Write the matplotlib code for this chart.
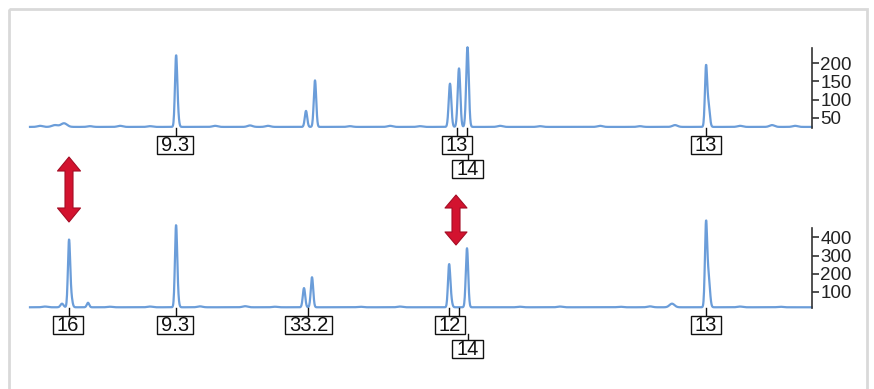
import numpy as np
import matplotlib.pyplot as plt
from matplotlib.patches import Rectangle, Polygon

W, H = 874, 389

# trace data (scan position, peak height above baseline, peak sigma)
top_base = 25
top_peak_x = [55, 64, 176, 177.5, 306, 315, 450, 459, 467.5, 706, 708.5]
top_peak_h = [5, 10, 178, 40, 44, 128, 119, 161, 219, 161, 60]
top_peak_s = [3, 3, 1.1, 1.2, 1.2, 1.2, 1.3, 1.3, 1.3, 1.1, 1.3]
top_noise_x = [40, 90, 120, 150, 215, 250, 268, 350, 390, 420, 500, 540, 600, 640, 675, 740, 772, 795]
top_noise_h = [3, 2, 3, 2, 3, 4, 3, 2, 3, 2, 3, 2, 3, 2, 5, 3, 5, 3]

bot_base = 14
bot_peak_x = [62, 69, 71, 88, 176, 177.5, 304, 312, 449, 450.5, 467, 672, 706, 708.5]
bot_peak_h = [20, 356, 60, 25, 426, 60, 106, 166, 206, 60, 326, 20, 444, 170]
bot_peak_s = [1.5, 1.1, 1.3, 1.2, 1.1, 1.2, 1.2, 1.2, 1.1, 1.3, 1.2, 2.5, 1.1, 1.4]
bot_noise_x = [45, 110, 150, 200, 245, 275, 360, 400, 520, 560, 620, 650, 740, 780]
bot_noise_h = [4, 3, 4, 5, 6, 3, 3, 4, 3, 4, 3, 5, 4, 3]

top_ticks = [50, 100, 150, 200]
bot_ticks = [100, 200, 300, 400]

# allele call boxes
top_labels = ["9.3", "13", "14", "13"]
top_label_x = [175, 457, 467.5, 706]
top_label_row = [0, 0, 1, 0]
top_label_ticks = [[176], [457, 467], [], [706]]

bot_labels = ["16", "9.3", "33.2", "12", "14", "13"]
bot_label_x = [68, 175, 308.5, 450, 467.5, 706]
bot_label_row = [0, 0, 0, 0, 1, 0]
bot_label_ticks = [[69], [176], [308], [449, 459], [], [706]]

TRACE = "#6b9dd9"
FONT = ["Liberation Sans", "DejaVu Sans"]


def trace(xs, base, px, ph, ps, nx, nh):
    y = np.full_like(xs, float(base))
    for c, h, s in zip(px, ph, ps):
        y += h * np.exp(-0.5 * ((xs - c) / s) ** 2)
    for c, h in zip(nx, nh):
        y += h * np.exp(-0.5 * ((xs - c) / 2.5) ** 2)
    return y


fig = plt.figure(figsize=(W / 100, H / 100), dpi=100)
xs = np.arange(30, 812, 0.25)

panels = [
    (48, 128, (22, 242), top_base, top_peak_x, top_peak_h, top_peak_s, top_noise_x, top_noise_h, top_ticks),
    (228, 308, (10, 452), bot_base, bot_peak_x, bot_peak_h, bot_peak_s, bot_noise_x, bot_noise_h, bot_ticks),
]
for ptop, pbot, ylim, base, px, ph, ps, nx, nh, ticks in panels:
    ax = fig.add_axes([30 / W, 1 - pbot / H, 782 / W, (pbot - ptop) / H])
    ax.plot(xs, trace(xs, base, px, ph, ps, nx, nh), color=TRACE, lw=1.6, clip_on=False)
    ax.set_xlim(30, 812)
    ax.set_ylim(*ylim)
    ax.patch.set_alpha(0)
    for s in ["top", "left", "bottom"]:
        ax.spines[s].set_visible(False)
    ax.spines["right"].set_color("#333333")
    ax.spines["right"].set_linewidth(1.2)
    ax.set_xticks([])
    ax.yaxis.tick_right()
    ax.set_yticks(ticks)
    ax.tick_params(axis="y", direction="out", length=5, width=1.2, color="#333333", pad=1)
    for lab in ax.get_yticklabels():
        lab.set_family(FONT)
        lab.set_fontsize(13.5)
        lab.set_color("#222222")

# overlay in pixel coordinates for frame, boxes and arrows
ov = fig.add_axes([0, 0, 1, 1], zorder=5)
ov.set_xlim(0, W)
ov.set_ylim(H, 0)
ov.axis("off")
ov.patch.set_alpha(0)

ov.add_patch(Rectangle((9, 9), 858, 400, fill=False, ec="#d9d9d9", lw=2))

renderer = fig.canvas.get_renderer()
for base_px, labels, lx, rows, lticks in [
    (128, top_labels, top_label_x, top_label_row, top_label_ticks),
    (308, bot_labels, bot_label_x, bot_label_row, bot_label_ticks),
]:
    row_top = [base_px + 8, base_px + 32]
    bh = 18
    for lab, x, r, tk in zip(labels, lx, rows, lticks):
        t = ov.text(x, row_top[r] + bh / 2 + 0.5, lab, ha="center", va="center",
                    fontsize=14.5, family=FONT, color="#111111", zorder=8)
        w = t.get_window_extent(renderer).width + 8
        ov.add_patch(Rectangle((x - w / 2, row_top[r]), w, bh, fc="white",
                               ec="#111111", lw=1, zorder=7))
        for tx in tk:
            ov.plot([tx, tx], [base_px, row_top[r]], color="#111111", lw=1, zorder=6)
        if r == 1:
            ov.plot([x, x], [row_top[0] + bh, row_top[1]], color="#111111", lw=1, zorder=6)


def double_arrow(cx, y0, y1, shaft, head_w, head_l):
    pts = [
        (cx, y0), (cx + head_w / 2, y0 + head_l), (cx + shaft / 2, y0 + head_l),
        (cx + shaft / 2, y1 - head_l), (cx + head_w / 2, y1 - head_l), (cx, y1),
        (cx - head_w / 2, y1 - head_l), (cx - shaft / 2, y1 - head_l),
        (cx - shaft / 2, y0 + head_l), (cx - head_w / 2, y0 + head_l),
    ]
    ov.add_patch(Polygon(pts, closed=True, fc="#d3132f", ec="#a50d25", lw=0.8,
                         joinstyle="round", zorder=9))


double_arrow(69, 157, 222, 8, 23, 14)
double_arrow(456, 195, 245, 8, 22, 13)

fig.savefig("out.png", dpi=100)
